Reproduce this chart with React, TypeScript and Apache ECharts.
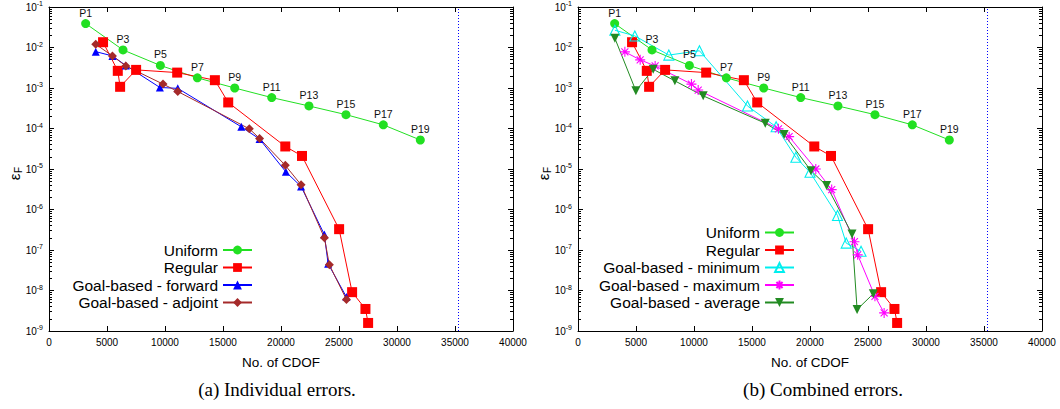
import React, { useEffect, useRef } from "react";
import * as echarts from "echarts";

// ---------- data ----------
const uniformX = [3160, 6380, 9600, 12790, 16010, 19200, 22410, 25600, 28820, 32010];
const uniformY = [0.039, 0.0087, 0.0036, 0.00178, 0.001, 5.8e-4, 3.6e-4, 2.2e-4, 1.23e-4, 5.2e-5];
const uniformLabels = ["P1", "P3", "P5", "P7", "P9", "P11", "P13", "P15", "P17", "P19"];

const regularX = [4660, 5930, 6130, 7510, 11050, 14300, 15450, 20370, 21810, 25010, 26130, 27280, 27510];
const regularY = [0.0135, 0.00265, 0.00107, 0.0028, 0.0024, 0.00156, 4.4e-4, 3.6e-5, 2.1e-5, 3.27e-7, 9.1e-9, 3.5e-9, 1.58e-9];

const forwardX = [4030, 5470, 6620, 9560, 11100, 16580, 18150, 20420, 21730, 23740, 24060, 25640];
const forwardY = [0.0079, 0.0062, 0.0036, 0.00103, 9.8e-4, 1.1e-4, 5.5e-5, 8.5e-6, 3.7e-6, 2.4e-7, 4.6e-8, 6.9e-9];

const adjointX = [4030, 5470, 6620, 9830, 11100, 17270, 18150, 20370, 21730, 23740, 24170, 25640];
const adjointY = [0.012, 0.0062, 0.0035, 0.00125, 8.2e-4, 9.8e-5, 5.7e-5, 1.23e-5, 4.07e-6, 2.0e-7, 4.3e-8, 6.0e-9];

const minimumX = [3180, 4900, 7830, 10470, 14610, 17080, 18780, 20000, 22370, 23120, 24400];
const minimumY = [0.0267, 0.0193, 0.0065, 0.0083, 3.6e-4, 1.1e-4, 1.95e-5, 8.3e-6, 7.1e-7, 1.48e-7, 9.3e-8];

const maximumX = [4040, 5360, 6650, 9780, 10360, 17280, 18200, 20500, 21870, 23830, 24110, 25600, 26390];
const maximumY = [0.0078, 0.00496, 0.0035, 0.00125, 8.9e-4, 9.8e-5, 6.3e-5, 1.0e-5, 3.1e-6, 1.6e-7, 7.6e-8, 7.2e-9, 2.8e-9];

const averageX = [3180, 4990, 6480, 8350, 10790, 16140, 17770, 20080, 21430, 23620, 24060, 25460];
const averageY = [0.0169, 8.5e-4, 0.0029, 0.0015, 6.4e-4, 1.35e-4, 7.1e-5, 9.1e-6, 3.9e-6, 2.5e-7, 3.4e-9, 8.3e-9];

const xMin = 0;
const xMax = 40000;
const xInterval = 5000;
const yMin = 1e-9;
const yMax = 1e-1;
const limitLineX = 35250;

const leftLegendNames = ["Uniform", "Regular", "Goal-based - forward", "Goal-based - adjoint"];
const rightLegendNames = ["Uniform", "Regular", "Goal-based - minimum", "Goal-based - maximum", "Goal-based - average"];
const captions = ["(a) Individual errors.", "(b) Combined errors."];
const xTitle = "No. of CDOF";

// ---------- styling ----------
const FONT = "'Liberation Sans', Arial, Helvetica, sans-serif";
const SERIF = "'Liberation Serif', 'Times New Roman', serif";
const GREEN = "#22e022";
const RED = "#ff0000";
const BLUE = "#0000ff";
const BROWN = "#a52a2a";
const CYAN = "#00eeee";
const MAGENTA = "#ff00ff";
const DKGREEN = "#228b22";

const STAR = "path://M5 0 L5 10 M0 5 L10 5 M1.5 1.5 L8.5 8.5 M1.5 8.5 L8.5 1.5";
const DOWN_TRI = "path://M0 0 L10 0 L5 8.66 Z";

function pairs(xs: number[], ys: number[]) {
  return xs.map((x, i) => [x, ys[i]]);
}

function makeXAxes(gridIndex: number) {
  const base = {
    type: "value" as const,
    gridIndex,
    min: xMin,
    max: xMax,
    interval: xInterval,
    splitLine: { show: false },
    axisLine: { show: true, onZero: false, lineStyle: { color: "#000", width: 1 } },
    axisTick: { show: true, inside: true, length: 5, lineStyle: { color: "#000", width: 1 } },
  };
  return [
    {
      ...base,
      position: "bottom",
      axisLabel: {
        show: true,
        margin: 6,
        fontSize: 10,
        color: "#000",
        fontFamily: FONT,
        showMinLabel: true,
        showMaxLabel: true,
        formatter: (v: number) => String(Math.round(v)),
      },
      name: xTitle,
      nameLocation: "middle",
      nameGap: 24,
      nameTextStyle: { fontSize: 13.5, color: "#000", fontFamily: FONT },
    },
    { ...base, position: "top", axisLabel: { show: false } },
  ];
}

function makeYAxes(gridIndex: number) {
  const base = {
    type: "log" as const,
    logBase: 10,
    gridIndex,
    min: yMin,
    max: yMax,
    splitNumber: 8,
    splitLine: { show: false },
    minorSplitLine: { show: false },
    axisLine: { show: true, onZero: false, lineStyle: { color: "#000", width: 1 } },
    axisTick: { show: true, inside: true, length: 5, lineStyle: { color: "#000", width: 1 } },
    minorTick: { show: true, splitNumber: 9, length: 3, lineStyle: { color: "#000", width: 1 } },
  };
  return [
    {
      ...base,
      position: "left",
      axisLabel: {
        show: true,
        margin: 6,
        fontSize: 10,
        color: "#000",
        fontFamily: FONT,
        formatter: (v: number) => "10{sup|" + Math.round(Math.log10(v)) + "}",
        rich: {
          sup: { fontSize: 7, fontFamily: FONT, color: "#000", padding: [0, 0, 7, 0] },
        },
      },
    },
    { ...base, position: "right", axisLabel: { show: false } },
  ];
}

function lineSeries(
  name: string,
  xs: number[],
  ys: number[],
  axisIdx: number,
  color: string,
  symbol: string,
  symbolSize: number,
  hollow = false,
  extra: any = {}
) {
  return {
    name,
    type: "line",
    xAxisIndex: axisIdx,
    yAxisIndex: axisIdx,
    data: pairs(xs, ys),
    symbol,
    symbolSize,
    showAllSymbol: true,
    clip: false,
    itemStyle: hollow
      ? { color: "rgba(255,255,255,0)", borderColor: color, borderWidth: 1.1 }
      : { color },
    lineStyle: { color, width: 1 },
    emphasis: { disabled: true },
    ...extra,
  };
}

function uniformSeries(axisIdx: number) {
  return lineSeries("Uniform", uniformX, uniformY, axisIdx, GREEN, "circle", 9, false, {
    label: {
      show: true,
      position: "top",
      distance: 1,
      formatter: (p: any) => uniformLabels[p.dataIndex],
      fontSize: 10.5,
      color: "#111",
      fontFamily: FONT,
    },
    markLine: {
      silent: true,
      symbol: "none",
      label: { show: false },
      lineStyle: { color: BLUE, type: [1, 2], width: 1 },
      data: [{ xAxis: limitLineX }],
    },
  });
}

function legendRows(names: string[], rowYs: number[], iconRight: number) {
  return names.map((n, i) => ({
    data: [n],
    orient: "horizontal",
    align: "right",
    right: 1060 - iconRight,
    top: rowYs[i] - 9,
    padding: 0,
    itemGap: 0,
    itemWidth: 29,
    itemHeight: 11,
    selectedMode: false,
    textStyle: { fontSize: 15.5, color: "#000", fontFamily: FONT, padding: [0, 0, 0, 0] },
  }));
}

export default function App() {
  const ref = useRef<HTMLDivElement>(null);

  useEffect(() => {
    if (!ref.current) return;
    const chart = echarts.init(ref.current, undefined, { renderer: "svg" });

    const option: any = {
      animation: false,
      backgroundColor: "#fff",
      grid: [
        { left: 49, top: 6, width: 464, height: 325, containLabel: false },
        { left: 578, top: 6, width: 464, height: 325, containLabel: false },
      ],
      xAxis: [...makeXAxes(0), ...makeXAxes(1)],
      yAxis: [...makeYAxes(0), ...makeYAxes(1)],
      legend: [
        ...legendRows(leftLegendNames, [251, 268.5, 286, 303.5], 253),
        ...legendRows(rightLegendNames, [233.5, 251, 268.5, 286, 303.5], 795),
      ],
      series: [
        uniformSeries(0),
        lineSeries("Regular", regularX, regularY, 0, RED, "rect", 10),
        lineSeries("Goal-based - forward", forwardX, forwardY, 0, BLUE, "triangle", 8),
        lineSeries("Goal-based - adjoint", adjointX, adjointY, 0, BROWN, "diamond", 9),
        uniformSeries(2),
        lineSeries("Regular", regularX, regularY, 2, RED, "rect", 10),
        lineSeries("Goal-based - minimum", minimumX, minimumY, 2, CYAN, "triangle", 10, true),
        lineSeries("Goal-based - maximum", maximumX, maximumY, 2, MAGENTA, STAR, 10, true),
        lineSeries("Goal-based - average", averageX, averageY, 2, DKGREEN, DOWN_TRI, 9),
      ],
      graphic: [
        {
          type: "text",
          x: 14,
          y: 177,
          rotation: Math.PI / 2,
          style: { text: "ε", fontSize: 15, fontFamily: FONT, fill: "#000", align: "center", verticalAlign: "middle" },
        },
        {
          type: "text",
          x: 18,
          y: 170,
          rotation: Math.PI / 2,
          style: { text: "F", fontSize: 10, fontFamily: FONT, fill: "#000", align: "center", verticalAlign: "middle" },
        },
        {
          type: "text",
          x: 543,
          y: 177,
          rotation: Math.PI / 2,
          style: { text: "ε", fontSize: 15, fontFamily: FONT, fill: "#000", align: "center", verticalAlign: "middle" },
        },
        {
          type: "text",
          x: 547,
          y: 170,
          rotation: Math.PI / 2,
          style: { text: "F", fontSize: 10, fontFamily: FONT, fill: "#000", align: "center", verticalAlign: "middle" },
        },
        {
          type: "text",
          x: 277,
          y: 389,
          style: { text: captions[0], fontSize: 19, fontFamily: SERIF, fill: "#000", align: "center", verticalAlign: "middle" },
        },
        {
          type: "text",
          x: 823,
          y: 389,
          style: { text: captions[1], fontSize: 19, fontFamily: SERIF, fill: "#000", align: "center", verticalAlign: "middle" },
        },
      ],
    };

    chart.setOption(option);
    return () => chart.dispose();
  }, []);

  return (
    <div
      ref={ref}
      style={{ position: "absolute", left: 0, top: 0, width: 1060, height: 409, background: "#fff" }}
    />
  );
}
